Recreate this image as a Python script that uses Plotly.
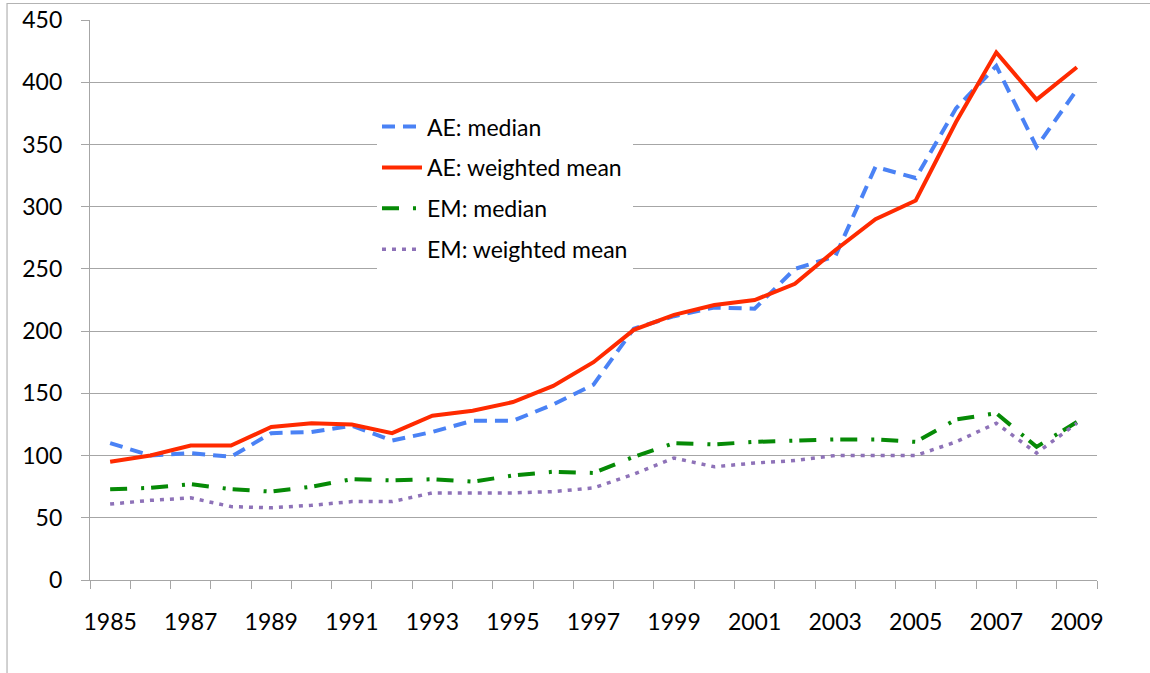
import plotly.graph_objects as go

years = list(range(1985, 2010))
ae_median = [110, 100, 102, 99, 118, 119, 124, 112, 119, 128, 128, 141, 157, 202, 212, 219, 218, 250, 260, 332, 323, 379, 413, 348, 394]
ae_wmean = [95, 100, 108, 108, 123, 126, 125, 118, 132, 136, 143, 156, 175, 201, 213, 221, 225, 238, 265, 290, 305, 368, 424, 386, 412]
em_median = [73, 74, 77, 73, 71, 75, 81, 80, 81, 79, 84, 87, 86, 99, 110, 109, 111, 112, 113, 113, 111, 129, 134, 107, 127]
em_wmean = [61, 64, 66, 59, 58, 60, 63, 63, 70, 70, 70, 71, 74, 85, 98, 91, 94, 96, 100, 100, 100, 111, 126, 102, 126]

y_ticks = [0, 50, 100, 150, 200, 250, 300, 350, 400, 450]
x_labels = [str(y) for y in years if y % 2 == 1]

FONT = "Lato"
fig = go.Figure()
series = [
    ("AE: median", ae_median, "#4a82f5", "13px,8px", 4),
    ("AE: weighted mean", ae_wmean, "#ff2a00", "solid", 4),
    ("EM: median", em_median, "#068a06", "17px,14px,3px,7px", 4),
    ("EM: weighted mean", em_wmean, "#8e72b8", "4px,6px", 3.5),
]
for i, (name, vals, color, dash, w) in enumerate(series):
    fig.add_trace(go.Scatter(
        x=years, y=vals, mode="lines", name=name, legendgroup=f"g{i}",
        line=dict(color=color, width=w, dash=dash),
    ))

fig.update_layout(
    width=1150, height=673,
    margin=dict(l=90, r=53, t=20, b=93),
    paper_bgcolor="white", plot_bgcolor="white",
    font=dict(family=FONT, size=23, color="black"),
    showlegend=True,
    legend=dict(
        x=0.285, y=0.848, xanchor="left", yanchor="top",
        bgcolor="white", borderwidth=0,
        font=dict(family=FONT, size=23, color="black"),
        tracegroupgap=8, traceorder="grouped",
        itemwidth=40,
    ),
    xaxis=dict(
        range=[1984.5, 2009.5], automargin=False,
        tickmode="array", tickvals=[int(v) for v in x_labels], ticktext=x_labels,
        ticks="", showgrid=False, zeroline=False,
        showline=True, linecolor="#a6a6a6", linewidth=1.3,
        ticklabelstandoff=21,
        minor=dict(tick0=1984.5, dtick=1, ticks="outside", ticklen=8,
                   tickcolor="#a6a6a6", tickwidth=1.3, showgrid=False),
    ),
    yaxis=dict(
        range=[0, 450], automargin=False, tickmode="array", tickvals=y_ticks,
        ticks="outside", ticklen=8, tickcolor="#a6a6a6", tickwidth=1.3,
        showgrid=True, gridcolor="#a6a6a6", gridwidth=1.3, zeroline=False,
        showline=True, linecolor="#a6a6a6", linewidth=1.3,
        ticklabelstandoff=14,
    ),
    shapes=[dict(type="rect", xref="paper", yref="paper",
                 x0=-0.0824, x1=1.2, y0=-0.3, y1=1.0295,
                 line=dict(color="#b3b3b3", width=1.2), layer="below")],
)

fig.write_html("out.html", config={"displayModeBar": False},
               post_script="document.body.style.margin='0';")
